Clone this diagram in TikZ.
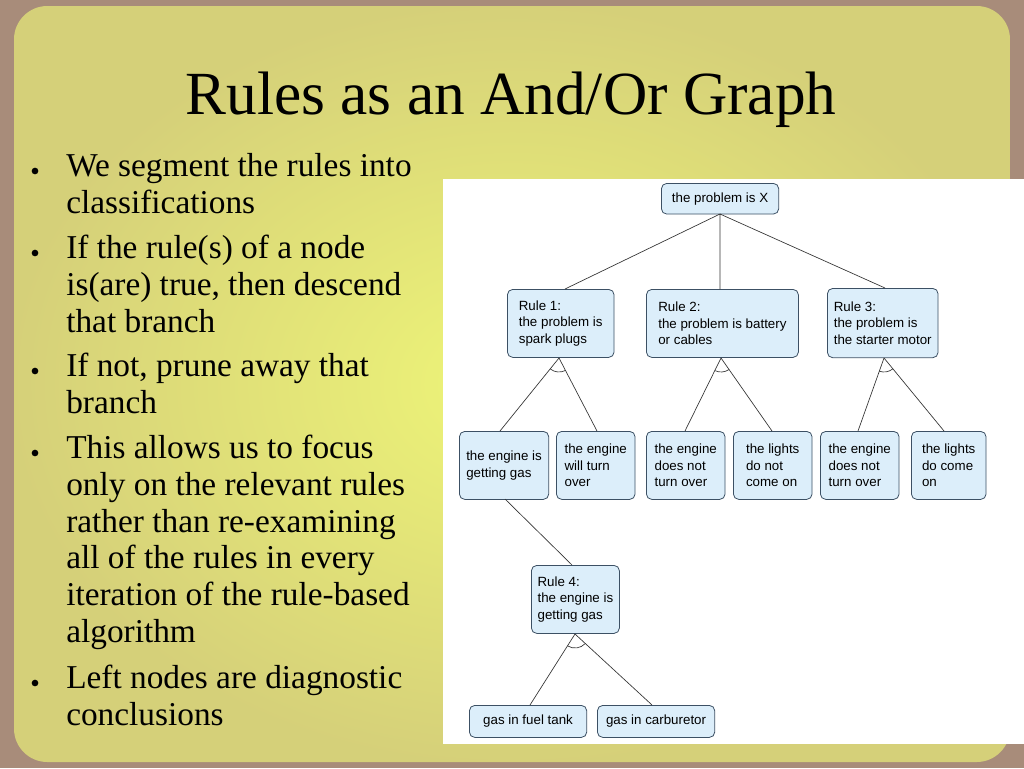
\documentclass[tikz,border=0pt]{standalone}
\usepackage{fontspec}
\setmainfont{Liberation Serif}
\newfontfamily\boxfont{Liberation Sans}
\definecolor{bgbrown}{RGB}{168,140,122}
\definecolor{bgyel}{RGB}{238,245,120}
\definecolor{boxfill}{RGB}{220,238,250}
\definecolor{boxline}{RGB}{60,80,100}
\tikzset{
 px/.style={x=0.75pt,y=-0.75pt},
 nbox/.style={draw=boxline,fill=boxfill,rounded corners=4pt,line width=0.6pt,
   font=\boxfont\fontsize{10}{12.5}\selectfont,align=left,inner sep=3pt,anchor=north west},
 link/.style={draw=black!80,line width=0.5pt},
 bitem/.style={anchor=north west,align=left,inner sep=0pt,font=\fontsize{25}{27.5}\selectfont},
 bdot/.style={circle,fill=black,inner sep=0pt,minimum size=5pt}
}
\begin{document}
\begin{tikzpicture}[px]
\useasboundingbox (0,0) rectangle (1024,768);
\fill[bgbrown] (0,0) rectangle (1024,768);
\shade[inner color=bgyel,outer color=bgyel!65!bgbrown,rounded corners=25pt] (14,6) rectangle (1010,762);
\fill[white] (443,179) rectangle (1024,744);
\node[font=\fontsize{46}{52}\selectfont] (title) at (511,100) {Rules as an And/Or Graph};
% bullets
\foreach \y/\n in {171/1,253/2,371/3,453/4,683/5}{\node[bdot] (d\n) at (35,\y) {};}
\node[bitem] (i1) at (66,153) {We segment the rules into\\classifications};
\node[bitem] (i2) at (66,235) {If the rule(s) of a node\\is(are) true, then descend\\that branch};
\node[bitem] (i3) at (66,353) {If not, prune away that\\branch};
\node[bitem] (i4) at (66,435) {This allows us to focus\\only on the relevant rules\\rather than re-examining\\all of the rules in every\\iteration of the rule-based\\algorithm};
\node[bitem] (i5) at (66,665) {Left nodes are diagnostic\\conclusions};
% nodes
\node[nbox,minimum width=88pt,minimum height=23pt,align=center] (top) at (661,183) {the problem is X};
\node[nbox,minimum width=80pt,minimum height=51pt] (r1) at (507,289) {Rule 1:\\the problem is\\spark plugs};
\node[nbox,minimum width=114pt,minimum height=51pt] (r2) at (646,289) {Rule 2:\\the problem is battery\\or cables};
\node[nbox,minimum width=83pt,minimum height=52pt] (r3) at (827,288) {Rule 3:\\the problem is\\the starter motor};
\node[nbox,minimum width=67pt,minimum height=51pt] (l1) at (459,431) {the engine is\\getting gas};
\node[nbox,minimum width=59pt,minimum height=51pt] (l2) at (556,431) {the engine\\will turn\\over};
\node[nbox,minimum width=59pt,minimum height=51pt] (l3) at (646,431) {the engine\\does not\\turn over};
\node[nbox,minimum width=59pt,minimum height=51pt] (l4) at (733,431) {the lights\\do not\\come on};
\node[nbox,minimum width=59pt,minimum height=51pt] (l5) at (820,431) {the engine\\does not\\turn over};
\node[nbox,minimum width=56pt,minimum height=51pt] (l6) at (911,431) {the lights\\do come\\on};
\node[nbox,minimum width=66pt,minimum height=51pt] (r4) at (531,565) {Rule 4:\\the engine is\\getting gas};
\node[nbox,minimum width=88pt,minimum height=24pt,align=center] (b1) at (469,705) {gas in fuel tank};
\node[nbox,minimum width=88pt,minimum height=24pt,align=center] (b2) at (597,705) {gas in carburetor};
% links
\coordinate (tb) at (720,214);
\draw[link] (tb) -- (565,289) (tb) -- (720,289) (tb) -- (885,288);
\coordinate (p1) at (559,358); \coordinate (p2) at (721,358); \coordinate (p3) at (884,358); \coordinate (p4) at (575,634);
\draw[link] (p1) -- (500,431) (p1) -- (597,431);
\draw[link] (p2) -- (685,431) (p2) -- (772,431);
\draw[link] (p3) -- (858,431) (p3) -- (944,431);
\draw[link] (505,499) -- (572,565);
\draw[link] (p4) -- (530,705) (p4) -- (652,705);
\foreach \p/\a/\b in {p1/62/129,p2/55/116,p3/50.6/110,p4/42.7/122}{\draw[link] (\p) ++(-\a:10.5pt) arc[start angle=-\a,end angle=-\b,radius=10.5pt];}
\end{tikzpicture}
\end{document}
